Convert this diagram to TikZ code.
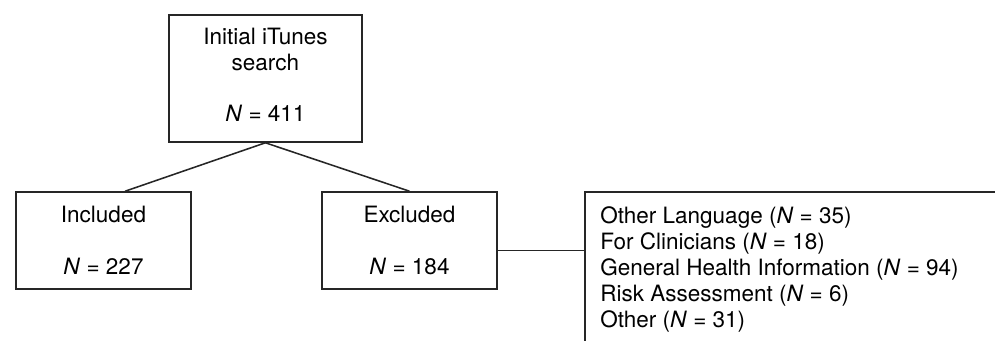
\documentclass[tikz,border=0pt]{standalone}
\usepackage{fontspec}
\setmainfont{TeX Gyre Heros}

\tikzset{
  box/.style={draw=black!85, line width=1.1pt, align=center, inner sep=0pt},
  link/.style={draw=black!85, line width=1.1pt},
}

\begin{document}
\begin{tikzpicture}[x=0.025cm,y=-0.025cm,font=\fontsize{16}{18.5}\selectfont]
  \useasboundingbox (0,0) rectangle (995,341);

  \node[box, minimum width=4.82cm, minimum height=3.175cm] (search) at (265.4,78.5)
    {Initial iTunes\\search\\[17.8pt]\textit{N} = 411\strut};
  \node[box, minimum width=4.375cm, minimum height=2.425cm] (incl) at (103.5,240.5)
    {Included\\[18.9pt]\textit{N} = 227};
  \node[box, minimum width=4.375cm, minimum height=2.425cm] (excl) at (409.5,240.5)
    {Excluded\\[18.9pt]\textit{N} = 184};

  \draw[link] (search.south) -- ([xshift=0.54cm]incl.north);
  \draw[link] (search.south) -- (excl.north);

  % open frame round the reasons
  \coordinate (reasons top) at (585,192);
  \draw[link] (995,192) -- (reasons top) -- (585,341);
  \draw[link] ([yshift=-0.255cm]excl.east) coordinate (excl out) -- (excl out -| reasons top);

  \node[anchor=north west, align=left, inner sep=0pt] (reasons) at (600,206)
    {Other Language (\textit{N} = 35)\\
     For Clinicians (\textit{N} = 18)\\
     General Health Information (\textit{N} = 94)\\
     Risk Assessment (\textit{N} = 6)\\
     Other (\textit{N} = 31)};
\end{tikzpicture}
\end{document}
